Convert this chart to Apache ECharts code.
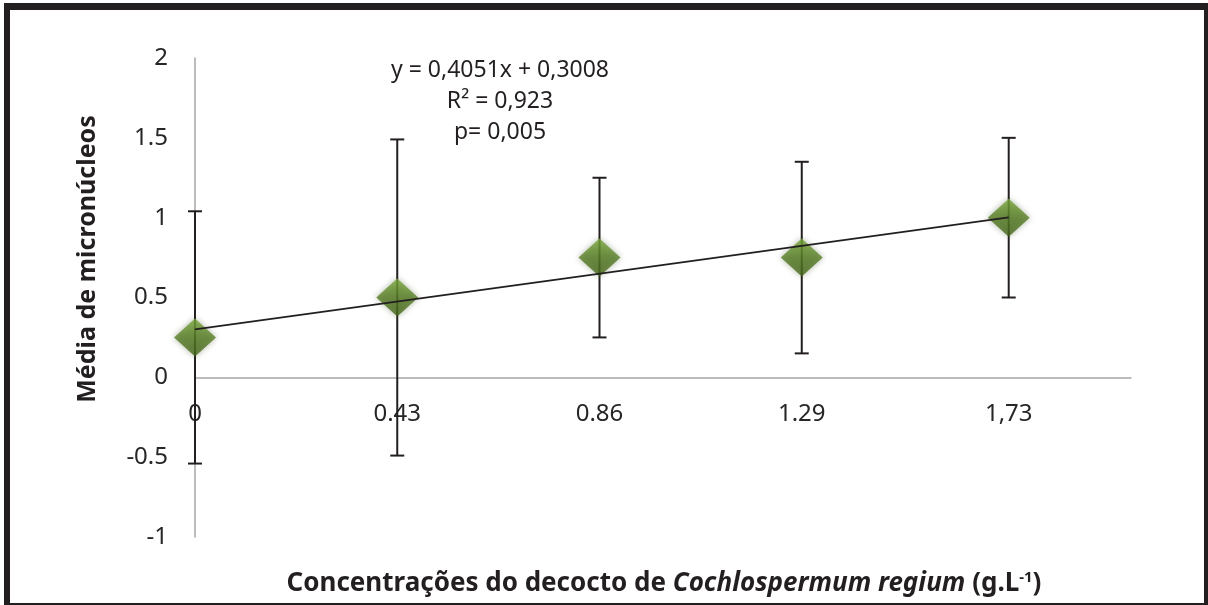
<!DOCTYPE html>
<html>
<head>
<meta charset="utf-8">
<script src="https://cdn.jsdelivr.net/npm/echarts@6/dist/echarts.min.js"></script>
<style>
  html, body { margin: 0; padding: 0; background: #fff; }
  #chart { width: 1208px; height: 605px; }
</style>
</head>
<body>
<div id="chart"></div>
<script>
// Concentrations of the decoction (g/L) and their tick labels
const concentrations = [0, 0.43, 0.86, 1.29, 1.73];
const xTickLabels = ['0', '0.43', '0.86', '1.29', '1,73'];
// Mean micronuclei per concentration and the error-bar half widths
const meanMicronuclei = [0.25, 0.5, 0.75, 0.75, 1.0];
const errorHalf = [0.79, 0.99, 0.5, 0.6, 0.5];
// Linear fit shown in the annotation
const slope = 0.4051;
const intercept = 0.3008;
const fitLines = ['y = 0,4051x + 0,3008', 'R² = 0,923', 'p= 0,005'];

const FONT = '"Noto Sans", "Open Sans", sans-serif';
const INK = '#231f20';

// plot area geometry (pixels)
const GRID = { left: 195, right: 77, top: 58, bottom: 68 };
const Y_MIN = -1, Y_MAX = 2;
const plotH = 605 - GRID.top - GRID.bottom;
// shift the concentration axis up so it sits on y = 0
const zeroShift = -plotH * (0 - Y_MIN) / (Y_MAX - Y_MIN);

const chart = echarts.init(document.getElementById('chart'), null, { renderer: 'canvas' });

const points = concentrations.map((x, i) => [x, meanMicronuclei[i]]);
const errData = concentrations.map((x, i) => [x, meanMicronuclei[i] - errorHalf[i], meanMicronuclei[i] + errorHalf[i]]);
const xStart = concentrations[0];
const xEnd = concentrations[concentrations.length - 1];
const trend = [[xStart, intercept + slope * xStart], [xEnd, intercept + slope * xEnd]];

const option = {
  backgroundColor: '#ffffff',
  animation: false,
  grid: GRID,
  xAxis: {
    type: 'value',
    min: 0,
    max: 1.99,
    offset: zeroShift,
    splitLine: { show: false },
    axisTick: { show: false },
    axisLine: { show: true, onZero: false, lineStyle: { color: '#a6a6a6', width: 1.5 } },
    axisLabel: {
      customValues: concentrations,
      formatter: v => {
        const i = concentrations.indexOf(v);
        return i >= 0 ? xTickLabels[i] : '';
      },
      margin: 25,
      fontSize: 24,
      fontFamily: FONT,
      color: '#262626'
    }
  },
  yAxis: {
    type: 'value',
    min: Y_MIN,
    max: Y_MAX,
    interval: 0.5,
    splitLine: { show: false },
    axisTick: { show: false },
    axisLine: { show: true, onZero: false, lineStyle: { color: '#a6a6a6', width: 1.5 } },
    axisLabel: {
      formatter: v => String(v),
      margin: 27,
      fontSize: 24,
      fontFamily: FONT,
      color: '#262626',
      verticalAlign: 'middle',
      padding: [18, 0, 0, 0]
    }
  },
  series: [
    {
      type: 'custom',
      name: 'erro',
      z: 2,
      data: errData,
      renderItem: (params, api) => {
        const x = api.value(0);
        const lo = api.coord([x, api.value(1)]);
        const hi = api.coord([x, api.value(2)]);
        const cap = 7;
        const style = { stroke: INK, lineWidth: 2 };
        return {
          type: 'group',
          children: [
            { type: 'line', shape: { x1: lo[0], y1: lo[1], x2: hi[0], y2: hi[1] }, style },
            { type: 'line', shape: { x1: lo[0] - cap, y1: lo[1], x2: lo[0] + cap, y2: lo[1] }, style },
            { type: 'line', shape: { x1: hi[0] - cap, y1: hi[1], x2: hi[0] + cap, y2: hi[1] }, style }
          ]
        };
      }
    },
    {
      type: 'scatter',
      name: 'média',
      z: 3,
      data: points,
      symbol: 'diamond',
      symbolSize: [42, 38],
      itemStyle: {
        color: new echarts.graphic.LinearGradient(0, 0, 0, 1, [
          { offset: 0, color: '#7aa83a' },
          { offset: 0.5, color: '#567d25' },
          { offset: 1, color: '#44651a' }
        ]),
        shadowColor: 'rgba(40,60,10,0.45)',
        shadowBlur: 6
      }
    },
    {
      type: 'line',
      name: 'tendência',
      z: 4,
      data: trend,
      symbol: 'none',
      lineStyle: { color: INK, width: 1.8 }
    }
  ],
  graphic: [
    // frame around the figure
    { type: 'rect', shape: { x: 4, y: 3, width: 1204, height: 7 }, style: { fill: INK } },
    { type: 'rect', shape: { x: 4, y: 3, width: 6, height: 602 }, style: { fill: INK } },
    { type: 'rect', shape: { x: 1204, y: 3, width: 4, height: 602 }, style: { fill: INK } },
    { type: 'rect', shape: { x: 4, y: 603, width: 1204, height: 2 }, style: { fill: INK } },
    // regression annotation
    ...fitLines.map((t, i) => ({
      type: 'text',
      x: 500,
      y: 70 + i * 31,
      style: {
        text: t, fontSize: 23, fontFamily: FONT, fill: INK,
        align: 'center', verticalAlign: 'middle'
      }
    })),
    // y axis title
    {
      type: 'text',
      x: 88,
      y: 259,
      rotation: Math.PI / 2,
      style: {
        text: 'Média de micronúcleos',
        fontSize: 25, fontWeight: 'bold', fontFamily: FONT, fill: INK,
        align: 'center', verticalAlign: 'middle'
      }
    },
    // x axis title
    {
      type: 'text',
      x: 664,
      y: 584,
      style: {
        text: '{b|Concentrações do decocto de }{i|Cochlospermum regium}{b| (g.L}{s|-1}{b|)}',
        align: 'center', verticalAlign: 'middle',
        rich: {
          b: { fontSize: 26, fontWeight: 'bold', fontFamily: FONT, fill: INK },
          i: { fontSize: 26, fontWeight: 'bold', fontStyle: 'italic', fontFamily: FONT, fill: INK },
          s: { fontSize: 15, fontWeight: 'bold', fontFamily: FONT, fill: INK, verticalAlign: 'top', padding: [0, 0, 12, 0] }
        }
      }
    }
  ]
};

chart.setOption(option);
</script>
</body>
</html>
